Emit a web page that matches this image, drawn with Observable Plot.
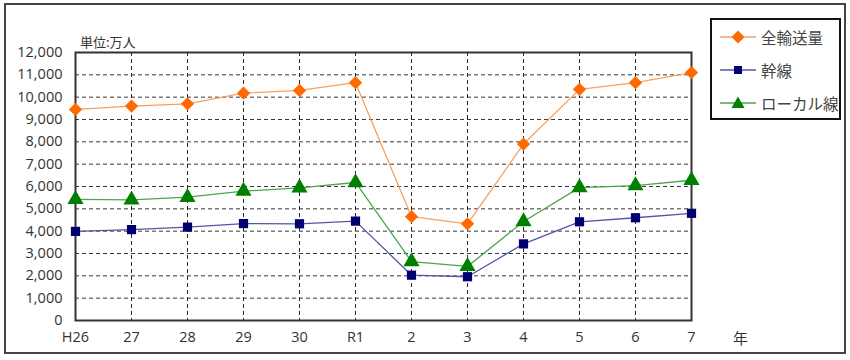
<!DOCTYPE html>
<html><head><meta charset="utf-8">
<script src="https://cdn.jsdelivr.net/npm/d3@7"></script>
<script src="https://cdn.jsdelivr.net/npm/@observablehq/plot@0.6"></script>
<style>
body{margin:0;background:#fff;font-family:"Noto Sans CJK JP","Noto Sans",sans-serif;}
#wrap{position:relative;width:850px;height:360px;overflow:hidden;}
#border{position:absolute;left:4px;top:3px;width:838px;height:347px;border:2px solid #444;}
#unit{position:absolute;left:80px;top:32px;font-size:13px;color:#333;}
#legend{position:absolute;left:710px;top:18px;width:127px;height:98px;border:2px solid #111;background:#fff;}
.li{position:absolute;left:8px;height:20px;display:flex;align-items:center;font-size:15.5px;color:#444;}
.li svg{margin-right:5px;}
#chart{position:absolute;left:0;top:0;}
</style></head>
<body><div id="wrap"><div id="border"></div><div id="chart"></div><div id="unit">単位:万人</div>
<div id="legend"></div></div>
<script>
const years = ["H26","27","28","29","30","R1","2","3","4","5","6","7"];
const seriesNames = ["全輸送量","幹線","ローカル線"];
const total = [9450,9600,9700,10180,10300,10650,4650,4330,7900,10350,10650,11100];
const trunk = [3990,4070,4180,4340,4330,4450,2030,1960,3430,4420,4600,4800];
const local = [5420,5400,5520,5790,5940,6180,2640,2420,4430,5950,6040,6280];
const yTicks = [0,1000,2000,3000,4000,5000,6000,7000,8000,9000,10000,11000,12000];

const lineColors = ["#F7A160","#5555A5","#4CA64C"];
const markColors = ["#FF6A00","#000070","#008000"];
const symbols = ["diamond2","square","triangle"];
const sizes = [6,5.2,6];
const allSeries = [total, trunk, local];

const data = [];
allSeries.forEach((vals, s) => vals.forEach((v, i) => data.push({year: years[i], value: v, series: seriesNames[s]})));

const marks = [
  Plot.gridX(years, {stroke: "#111", strokeOpacity: 0.9, strokeDasharray: "4,3", strokeWidth: 1}),
  Plot.gridY(yTicks.slice(1), {stroke: "#222", strokeOpacity: 0.9, strokeDasharray: "4,3", strokeWidth: 1}),
  Plot.axisY({ticks: yTicks, tickSize: 0, tickPadding: 13, tickFormat: d3.format(","), fontSize: 14.5, fill: "#333"}),
  Plot.axisX({tickSize: 0, tickPadding: 11, fontSize: 14.5, fill: "#333"}),
  Plot.frame({stroke: "#333", strokeWidth: 2}),
];
seriesNames.forEach((name, s) => {
  const d = data.filter(r => r.series === name);
  marks.push(Plot.line(d, {x: "year", y: "value", stroke: lineColors[s], strokeWidth: 1.3}));
  marks.push(Plot.dot(d, {x: "year", y: "value", symbol: () => symbols[s], fill: markColors[s], stroke: "none", r: sizes[s]}));
});

const chart = Plot.plot({
  width: 850, height: 360,
  marginLeft: 75, marginRight: 159, marginTop: 52, marginBottom: 40,
  style: {fontFamily: "'Open Sans','Noto Sans',sans-serif", fontSize: "14px", background: "transparent", overflow: "visible"},
  x: {type: "point", domain: years, padding: 0, label: null},
  y: {domain: [0, 12000], label: null},
  symbol: {type: "identity"},
  marks
});
document.getElementById("chart").appendChild(chart);

// "年" label next to the x axis
const nen = document.createElement("div");
nen.textContent = "年";
Object.assign(nen.style, {position: "absolute", left: "733px", top: "327px", fontSize: "15px", color: "#333"});
document.getElementById("wrap").appendChild(nen);

// legend
const legend = document.getElementById("legend");
const symPaths = [
  "M18,3.5 L24.5,10 L18,16.5 L11.5,10 Z",
  "M14,6 L22,6 L22,14 L14,14 Z",
  "M18,3.5 L24.5,15 L11.5,15 Z"
];
seriesNames.forEach((name, s) => {
  const el = document.createElement("div");
  el.className = "li";
  el.style.top = (7 + s * 33) + "px";
  el.innerHTML = `<svg width="36" height="20"><line x1="0" y1="10" x2="36" y2="10" stroke="${lineColors[s]}" stroke-width="1.5"/><path d="${symPaths[s]}" fill="${markColors[s]}"/></svg><span>${name}</span>`;
  legend.appendChild(el);
});
</script></body></html>
